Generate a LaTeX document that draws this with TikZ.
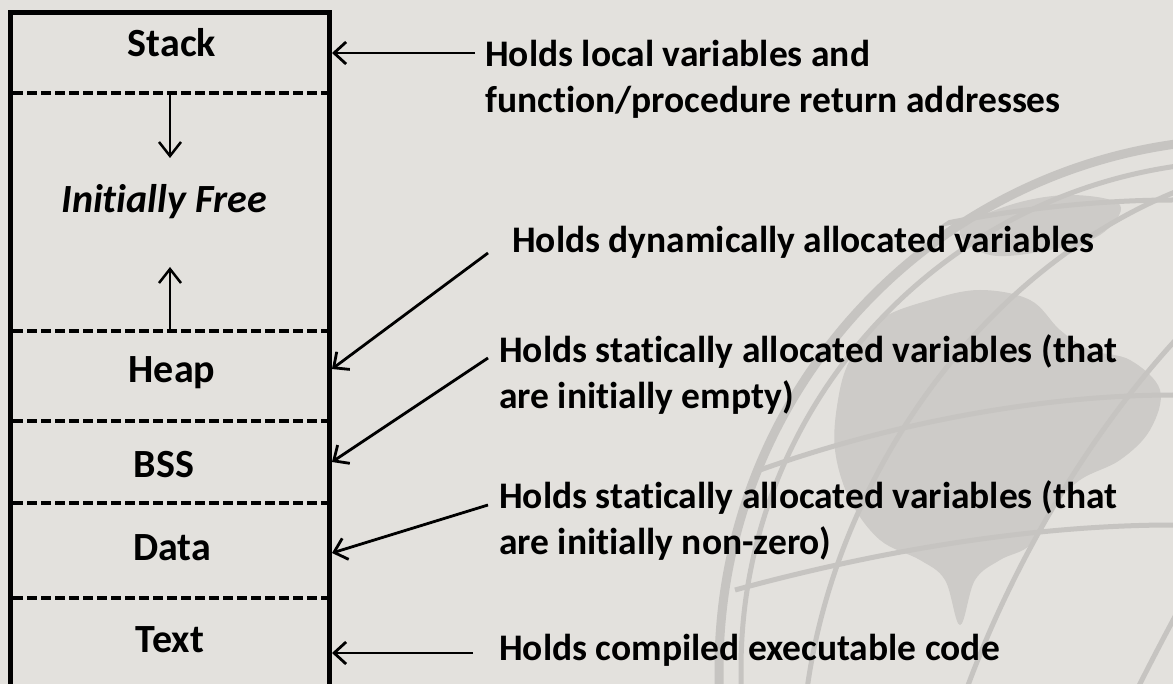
\documentclass[tikz,border=0pt]{standalone}
\usepackage{fontspec}
\setmainfont{Carlito}[Ligatures={NoCommon}]
\usetikzlibrary{arrows.meta}
\definecolor{bgc}{HTML}{E3E1DD}
\definecolor{globec}{HTML}{C6C4C1}
\definecolor{landc}{HTML}{CDCBC8}
\begin{document}
\begin{tikzpicture}[x=1pt,y=-1pt,
  lbl/.style={font=\fontsize{40}{46}\selectfont\bfseries, inner sep=0, anchor=base},
  desc/.style={font=\fontsize{37.5}{46}\selectfont\bfseries, align=left, inner sep=0, anchor=base west},
  ptr/.style={line width=2.8pt, -{Straight Barb[length=12pt,width=22pt]}},
  growarrow/.style={line width=2.5pt, -{Straight Barb[length=14pt,width=22pt]}},
  sep/.style={line width=3.2pt, dash pattern=on 10pt off 4pt},
  wall/.style={line width=5pt, line join=miter},
  gline/.style={globec, line width=5pt}]
\useasboundingbox[fill=bgc] (0,0) rectangle (1173,684);
% globe watermark
\begin{scope}
  \clip (0,0) rectangle (1173,684);
  \clip (1249,669) circle[radius=540];
  \fill[landc] plot[smooth cycle, tension=0.6] coordinates {(850,360) (880,320) (930,300) (980,290) (1030,300) (1060,330) (1090,350) (1130,360) (1160,390) (1150,430) (1120,460) (1080,480) (1050,510) (1030,545) (1000,560) (975,580) (960,625) (945,580) (920,560) (880,540) (850,500) (835,450) (838,400)};
  \fill[landc] plot[smooth cycle, tension=0.6] coordinates {(960,230) (1010,205) (1070,195) (1120,205) (1100,235) (1050,250) (990,255)};
  \draw[globec, line width=9pt] (1249,669) circle[radius=530];
  \draw[gline] (1249,669) circle[radius=508];
  \draw[gline, rotate around={-28:(1249,669)}] (1249,669) ellipse[x radius=420, y radius=533];
  \draw[gline, rotate around={-28:(1249,669)}] (1249,669) ellipse[x radius=250, y radius=533];
  \draw[gline, rotate around={-28:(1249,669)}] (1249,669) ellipse[x radius=90, y radius=533];
  \draw[gline] (760,470) .. controls (900,420) and (1050,395) .. (1173,395);
  \draw[gline] (735,590) .. controls (900,545) and (1050,525) .. (1173,525);
  \draw[gline] (880,240) .. controls (960,215) and (1080,200) .. (1173,200);
\end{scope}
% memory box
\draw[wall] (10.5,700) -- (10.5,12.5) -- (329,12.5) -- (329,700);
\draw[sep] (13,93) -- (327,93);
\draw[sep] (13,331) -- (327,331);
\draw[sep] (13,421) -- (327,421);
\draw[sep] (13,503) -- (327,503);
\draw[sep] (13,598) -- (327,598);
% region labels
\node[lbl] (stack) at (172,57) {Stack};
\node[lbl, font=\fontsize{40}{46}\selectfont\bfseries\itshape] (free) at (164,213) {Initially Free};
\node[lbl] (heap) at (172,383) {Heap};
\node[lbl] (bss) at (164,477) {BSS};
\node[lbl] (data) at (172,560) {Data};
\node[lbl] (text) at (170,652) {Text};
% growth arrows
\coordinate (stackEdge) at (170,93);
\coordinate (stackGrow) at (170,158);
\coordinate (heapEdge) at (170,331);
\coordinate (heapGrow) at (170,267);
\draw[growarrow] (stackEdge) -- (stackGrow);
\draw[growarrow] (heapEdge) -- (heapGrow);
% descriptions (base = baseline of last line)
\node[desc] (dstack) at (485,113) {Holds local variables and\\function/procedure return addresses};
\node[desc] (dheap) at (512,253) {Holds dynamically allocated variables};
\node[desc] (dbss) at (499,409) {Holds statically allocated variables (that\\are initially empty)};
\node[desc] (ddata) at (499,554) {Holds statically allocated variables (that\\are initially non-zero)};
\node[desc] (dtext) at (499,660) {Holds compiled executable code};
% pointer targets on the box edge
\coordinate (eStack) at (332,53);
\coordinate (eHeap) at (332,369);
\coordinate (eBss) at (332,462);
\coordinate (eData) at (332,553);
\coordinate (eText) at (332,653);
\draw[ptr] ([shift={(-10,-60)}]dstack.base west) -- (eStack);
\draw[ptr] ([shift={(-24,0)}]dheap.base west) -- (eHeap);
\draw[ptr] ([shift={(-11,-51)}]dbss.base west) -- (eBss);
\draw[ptr] ([shift={(-11,-49)}]ddata.base west) -- (eData);
\draw[ptr] ([shift={(-26,-7)}]dtext.base west) -- (eText);
\end{tikzpicture}
\end{document}
